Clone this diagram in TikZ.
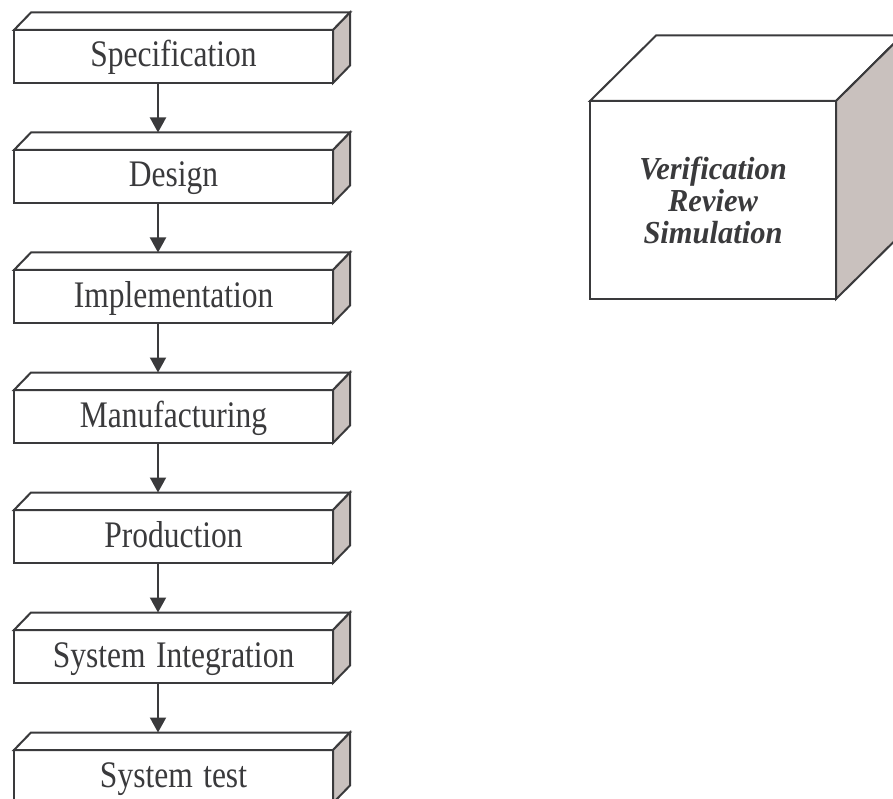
\documentclass[tikz,border=0pt]{standalone}
\usepackage{fontspec}
\usepackage{graphicx}
\setmainfont{Liberation Serif}
\usetikzlibrary{arrows.meta}
\definecolor{ink}{RGB}{58,58,60}
\definecolor{sideface}{RGB}{201,193,190}
\newcommand\tallText[1]{\scalebox{1}[1.19]{#1}}
\tikzset{
  frontbox/.style={draw=ink, line width=2pt, fill=white, inner sep=0pt, outer sep=0pt,
    anchor=north west, text=ink, text width=319pt, align=center,
    text height=37pt, text depth=16pt, font=\fontsize{31.5}{33}\selectfont},
  cubefront/.style={draw=ink, line width=2pt, fill=white, inner sep=0pt, outer sep=0pt,
    anchor=north west, minimum width=246pt, minimum height=198pt, text=ink, align=center,
    font=\fontsize{30.5}{33}\selectfont\bfseries\itshape},
  topface/.style={draw=ink, line width=2pt, fill=white, line join=miter},
  rightface/.style={draw=ink, line width=2pt, fill=sideface, line join=miter},
  flowarrow/.style={draw=ink, line width=2pt, -{Triangle[width=16pt,length=15pt]}},
}
\begin{document}
\begin{tikzpicture}[x=1pt,y=-1pt]
\useasboundingbox (0,0) rectangle (893,799);
\foreach \i/\t in {0/Specification,1/Design,2/Implementation,3/Manufacturing,4/Production,5/System Integration,6/System test}{
  \node[frontbox] (b\i) at (14,30+120*\i) {\tallText{\t}};
  \draw[topface] (b\i.north west) -- ++(17,-17.5) -- ++(319,0) -- (b\i.north east) -- cycle;
  \draw[rightface] (b\i.north east) -- ++(17,-17.5) -- ++(0,53) -- (b\i.south east) -- cycle;
}
\foreach \i [evaluate=\i as \j using int(\i+1)] in {0,...,5}{
  \coordinate (a\j) at (158,12.5+120*\j);
  \draw[flowarrow] (b\i.south -| a\j) -- (a\j);
}
\node[cubefront] (cube) at (590,101) {\scalebox{1}[1.05]{Verification}\\[-1pt]\scalebox{1}[1.05]{Review}\\[-1pt]\scalebox{1}[1.05]{Simulation}};
\draw[topface] (cube.north west) -- ++(66,-65.5) -- ++(246,0) -- (cube.north east) -- cycle;
\draw[rightface] (cube.north east) -- ++(66,-65.5) -- ++(0,198) -- (cube.south east) -- cycle;
\end{tikzpicture}
\end{document}
